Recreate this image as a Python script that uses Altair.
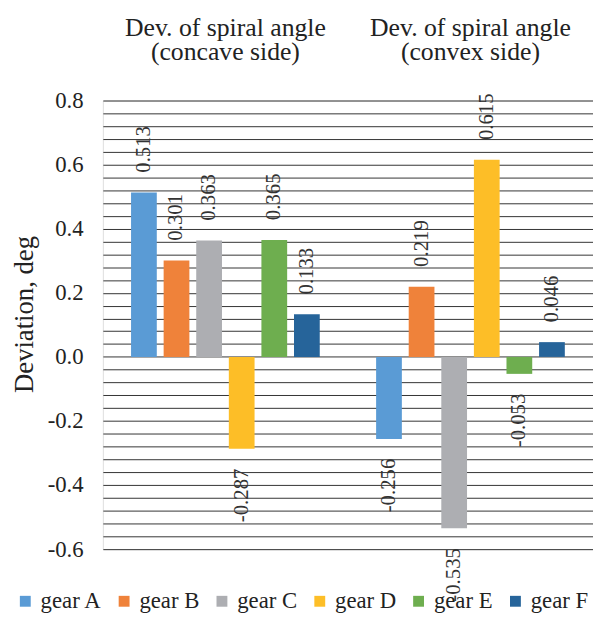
import altair as alt
import pandas as pd

categories = ["Dev. of spiral angle|(concave side)", "Dev. of spiral angle|(convex side)"]
gears = ["gear A", "gear B", "gear C", "gear D", "gear E", "gear F"]
concave = [0.513, 0.301, 0.363, -0.287, 0.365, 0.133]
convex = [-0.256, 0.219, -0.535, 0.615, -0.053, 0.046]
colors = ["#5A9BD5", "#EF823A", "#ADAEB2", "#FDBE27", "#6EAE4F", "#26649A"]
grid_values = [-0.6, -0.56, -0.52, -0.48, -0.44, -0.4, -0.36, -0.32, -0.28, -0.24,
               -0.2, -0.16, -0.12, -0.08, -0.04, 0.0, 0.04, 0.08, 0.12, 0.16, 0.2,
               0.24, 0.28, 0.32, 0.36, 0.4, 0.44, 0.48, 0.52, 0.56, 0.6, 0.64,
               0.68, 0.72, 0.76, 0.8]

rows = []
for cat, vals in zip(categories, [concave, convex]):
    for g, v in zip(gears, vals):
        rows.append({"cat": cat, "gear": g, "v": v})
df = pd.DataFrame(rows)

SERIF = "Liberation Serif"

base = alt.Chart(df).encode(
    x=alt.X("cat:N", sort=categories,
            scale=alt.Scale(paddingInner=0.23, paddingOuter=0.115),
            axis=alt.Axis(orient="top", title=None, domain=False, ticks=False,
                          labelAngle=0, labelExpr="split(datum.label, '|')",
                          labelFont=SERIF, labelFontSize=26, labelLineHeight=25,
                          labelColor="#222222", labelPadding=61, labelBaseline="bottom",
                          labelLimit=0)),
    xOffset=alt.XOffset("gear:N", sort=gears,
                        scale=alt.Scale(paddingInner=0.21, paddingOuter=0)),
    y=alt.Y("v:Q", scale=alt.Scale(domain=[-0.6, 0.8], nice=False, zero=False),
            axis=alt.Axis(values=grid_values, title="Deviation, deg",
                          labelExpr="abs(datum.value*5 - round(datum.value*5)) < 0.001 ? ((datum.value < -0.001 ? '-' : '') + format(abs(datum.value), '.1f')) : ''",
                          domain=False, ticks=False, grid=True,
                          gridColor="#333333", gridWidth=1, gridOpacity=1,
                          labelFont=SERIF, labelFontSize=23, labelColor="#222222",
                          labelPadding=20, labelBaseline="middle",
                          titleFont=SERIF, titleFontSize=27, titleFontWeight="normal",
                          titleColor="#222222", titleAngle=270, titleAlign="center",
                          titleBaseline="alphabetic", titleX=-71, titleY=216)),
)

bars = base.mark_bar().encode(
    color=alt.Color("gear:N", sort=gears,
                    scale=alt.Scale(domain=gears, range=colors),
                    legend=alt.Legend(title=None, orient="none", direction="horizontal",
                                      legendX=-90, legendY=495, symbolType="square",
                                      symbolSize=121, symbolStrokeWidth=0,
                                      labelFont=SERIF, labelFontSize=23,
                                      labelColor="#222222", labelOffset=4,
                                      columnPadding=11, padding=0, labelLimit=0))
)

lab = "(datum.v < 0 ? '-' : '') + format(abs(datum.v), '.3f')"
pos_text = base.transform_filter("datum.v >= 0").transform_calculate(t=lab).mark_text(
    angle=270, align="left", baseline="middle", dx=20,
    font=SERIF, fontSize=21, color="#333333").encode(text="t:N")
neg_text = base.transform_filter("datum.v < 0").transform_calculate(t=lab).mark_text(
    angle=270, align="right", baseline="middle", dx=-20,
    font=SERIF, fontSize=21, color="#333333").encode(text="t:N")

chart = alt.layer(bars, pos_text, neg_text).properties(
    width=496, height=454,
    autosize=alt.AutoSizeParams(type="none"),
    padding={"left": 96, "top": 90, "right": 0, "bottom": 62},
).configure_view(stroke=None).configure(background="white")

chart.save("out.html", embed_options={"renderer": "svg", "actions": False})
